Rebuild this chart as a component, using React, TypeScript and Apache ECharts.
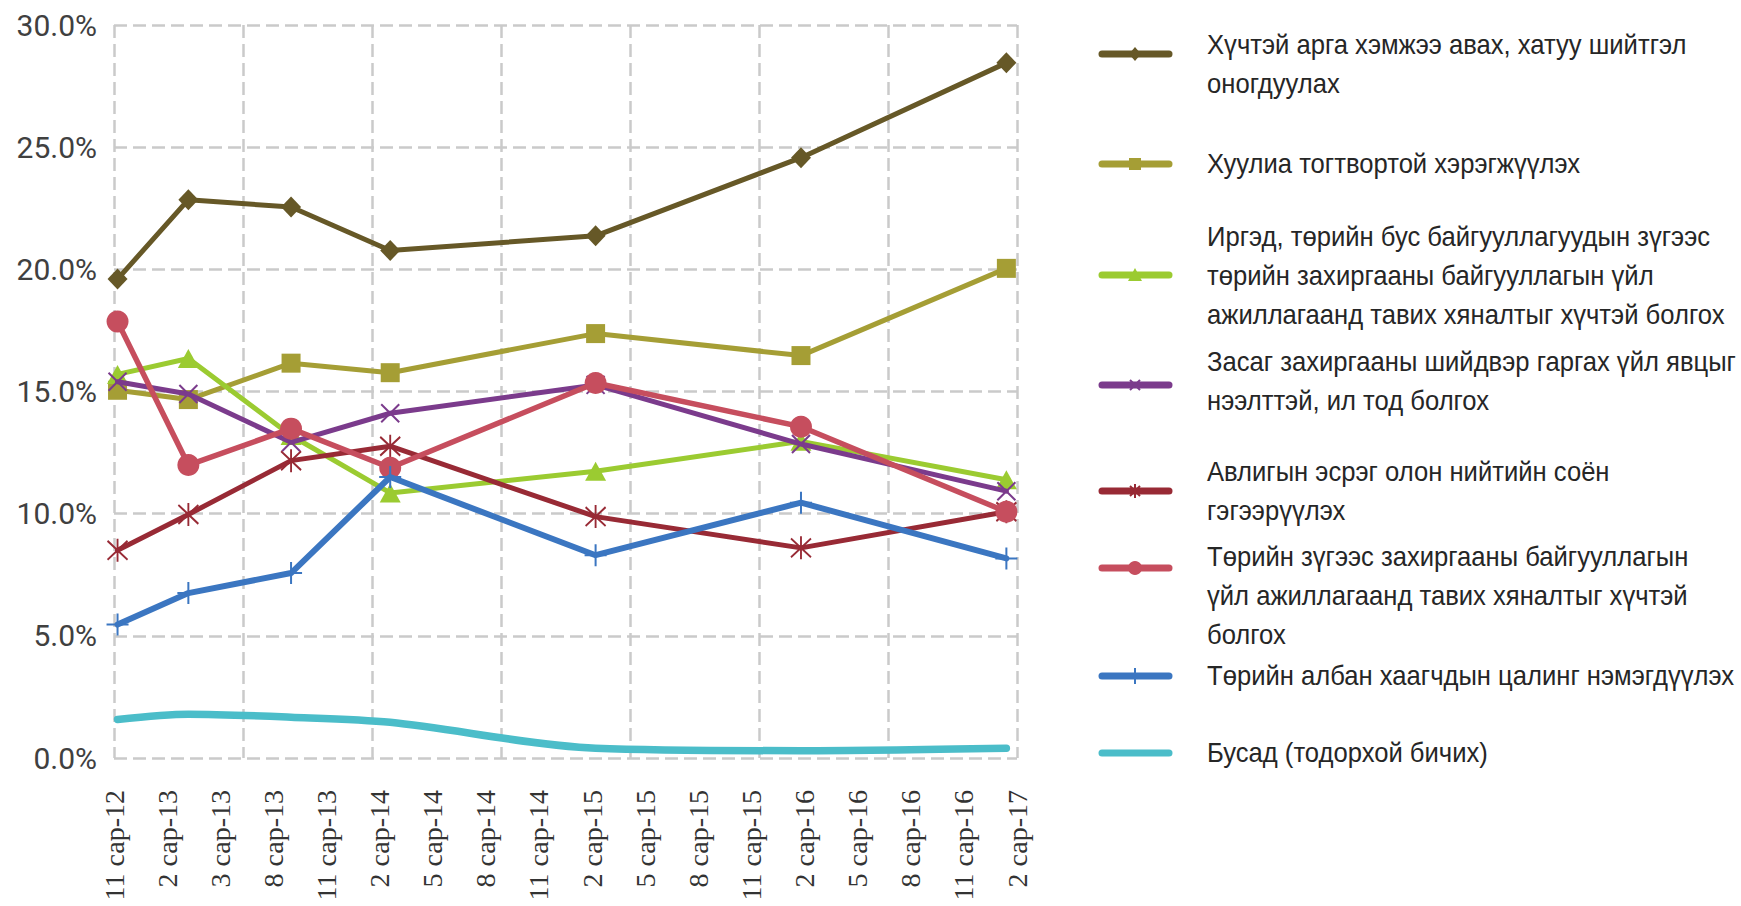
import React, { useEffect, useRef } from 'react';
import * as echarts from 'echarts';

// ---------- DATA ----------
const xTickLabels = [
  '11 сар-12', '2 сар-13', '3 сар-13', '8 сар-13', '11 сар-13', '2 сар-14',
  '5 сар-14', '8 сар-14', '11 сар-14', '2 сар-15', '5 сар-15', '8 сар-15',
  '11 сар-15', '2 сар-16', '5 сар-16', '8 сар-16', '11 сар-16', '2 сар-17',
];

// survey moments, in months counted from November 2012
const surveyMonths = [0.2, 4.2, 10.0, 15.6, 27.2, 38.8, 50.4];

const seriesNames = [
  'Хүчтэй арга хэмжээ авах, хатуу шийтгэл\nоногдуулах',
  'Хуулиа тогтвортой хэрэгжүүлэх',
  'Иргэд, төрийн бус байгууллагуудын зүгээс\nтөрийн захиргааны байгууллагын үйл\nажиллагаанд тавих хяналтыг хүчтэй болгох',
  'Засаг захиргааны шийдвэр гаргах үйл явцыг\nнээлттэй, ил тод болгох',
  'Авлигын эсрэг олон нийтийн соён\nгэгээрүүлэх',
  'Төрийн зүгээс захиргааны байгууллагын\nүйл ажиллагаанд тавих хяналтыг хүчтэй\nболгох',
  'Төрийн албан хаагчдын цалинг нэмэгдүүлэх',
  'Бусад (тодорхой бичих)',
];

const strongMeasures = [19.6, 22.85, 22.55, 20.77, 21.37, 24.57, 28.45];
const enforceLaw = [15.05, 14.67, 16.16, 15.77, 17.37, 16.47, 20.04];
const citizenOversight = [15.7, 16.35, 13.2, 10.85, 11.74, 12.96, 11.39];
const transparency = [15.4, 14.9, 12.92, 14.11, 15.27, 12.85, 10.92];
const publicAwareness = [8.5, 9.97, 12.17, 12.76, 9.88, 8.6, 10.08];
const stateOversight = [17.86, 11.99, 13.48, 11.88, 15.35, 13.56, 10.08];
const raiseSalaries = [5.46, 6.75, 7.57, 11.5, 8.3, 10.45, 8.17];
const otherAnswers = [1.58, 1.79, 1.67, 1.46, 0.4, 0.3, 0.4];

const seriesValues = [
  strongMeasures, enforceLaw, citizenOversight, transparency,
  publicAwareness, stateOversight, raiseSalaries, otherAnswers,
];

const yTicks = { min: 0, max: 30, step: 5 };

// ---------- STYLES ----------
const X_PATH = 'path://M0,0L20,20M20,0L0,20';
const AST_PATH = 'path://M1,2L19,20M19,2L1,20M10,0L10,22';
const PLUS_PATH = 'path://M10,0L10,20M0,10L20,10';

const styles = [
  { color: '#665827', symbol: 'diamond', size: [20, 21], width: 5, stroke: 0 },
  { color: '#a59e35', symbol: 'rect', size: 19, width: 5, stroke: 0 },
  { color: '#9bcb31', symbol: 'triangle', size: [21, 19], width: 5, stroke: 0 },
  { color: '#7b3b8c', symbol: X_PATH, size: 18, width: 5, stroke: 2 },
  { color: '#982a35', symbol: AST_PATH, size: [20, 23], width: 5, stroke: 2 },
  { color: '#c64e5e', symbol: 'circle', size: 22, width: 5.5, stroke: 0 },
  { color: '#3b76c1', symbol: PLUS_PATH, size: 22, width: 6, stroke: 2 },
  { color: '#4bbdc9', symbol: 'none', size: 0, width: 7.5, stroke: 0 },
];

// legend layout: icon centre y, first text line centre y
const legendIconY = [54, 164, 275, 385, 491, 568, 676, 753];
const legendTextY = [45, 164, 237, 362, 472, 557, 676, 753];

const LEG_X1 = 1102;
const LEG_X2 = 1169;
const LEG_CX = 1135;
const LEG_TX = 1207;
const LEG_LH = 39;
const LEG_SCALE_X = 0.915;

function legendMarker(i: number, cy: number): any[] {
  const c = styles[i].color;
  const cx = LEG_CX;
  switch (i) {
    case 0:
      return [{ type: 'polygon', shape: { points: [[cx, cy - 7], [cx + 6, cy], [cx, cy + 7], [cx - 6, cy]] }, style: { fill: c } }];
    case 1:
      return [{ type: 'rect', shape: { x: cx - 6, y: cy - 6, width: 12, height: 12 }, style: { fill: c } }];
    case 2:
      return [{ type: 'polygon', shape: { points: [[cx, cy - 7], [cx + 7, cy + 6], [cx - 7, cy + 6]] }, style: { fill: c } }];
    case 3:
      return [
        { type: 'line', shape: { x1: cx - 5, y1: cy - 5, x2: cx + 5, y2: cy + 5 }, style: { stroke: c, lineWidth: 2 } },
        { type: 'line', shape: { x1: cx + 5, y1: cy - 5, x2: cx - 5, y2: cy + 5 }, style: { stroke: c, lineWidth: 2 } },
      ];
    case 4:
      return [
        { type: 'line', shape: { x1: cx - 5, y1: cy - 5, x2: cx + 5, y2: cy + 5 }, style: { stroke: c, lineWidth: 2 } },
        { type: 'line', shape: { x1: cx + 5, y1: cy - 5, x2: cx - 5, y2: cy + 5 }, style: { stroke: c, lineWidth: 2 } },
        { type: 'line', shape: { x1: cx, y1: cy - 7, x2: cx, y2: cy + 7 }, style: { stroke: c, lineWidth: 2 } },
      ];
    case 5:
      return [{ type: 'circle', shape: { cx, cy, r: 7 }, style: { fill: c } }];
    case 6:
      return [{ type: 'line', shape: { x1: cx, y1: cy - 8, x2: cx, y2: cy + 8 }, style: { stroke: c, lineWidth: 2 } }];
    default:
      return [];
  }
}

export default function App() {
  const ref = useRef<HTMLDivElement>(null);

  useEffect(() => {
    document.body.style.margin = '0';
    if (!ref.current) return;
    const chart = echarts.init(ref.current, undefined, { renderer: 'svg' });

    const gridLine = { type: [13, 6], color: '#cacaca', width: 2.5 };

    const series = seriesValues.map((vals, i) => {
      const st = styles[i];
      return {
        name: seriesNames[i],
        type: 'line',
        data: vals.map((v, k) => [surveyMonths[k], v]),
        xAxisIndex: 0,
        yAxisIndex: 0,
        symbol: st.symbol,
        symbolSize: st.size,
        showSymbol: st.symbol !== 'none',
        smooth: i === 7 ? 0.3 : false,
        lineStyle: { color: st.color, width: st.width, cap: 'round', join: 'round' },
        itemStyle: { color: st.color, borderColor: st.color, borderWidth: st.stroke },
        z: 2 + i,
      };
    });

    const graphic: any[] = [];
    seriesNames.forEach((name, i) => {
      const c = styles[i].color;
      const iy = legendIconY[i];
      graphic.push({
        type: 'line',
        shape: { x1: LEG_X1, y1: iy, x2: LEG_X2, y2: iy },
        style: { stroke: c, lineWidth: 7, lineCap: 'round' },
      });
      legendMarker(i, iy).forEach((m) => graphic.push(m));
      graphic.push({
        type: 'text',
        x: LEG_TX,
        y: legendTextY[i] - LEG_LH / 2,
        scaleX: LEG_SCALE_X,
        style: {
          text: name,
          fontFamily: '"Liberation Sans", Arial, sans-serif',
          fontSize: 28,
          lineHeight: LEG_LH,
          fill: '#262626',
          verticalAlign: 'top',
          align: 'left',
        },
      });
    });

    const option: any = {
      animation: false,
      backgroundColor: '#ffffff',
      grid: { left: 114, top: 25, width: 903, height: 733, containLabel: false },
      xAxis: [
        {
          type: 'value',
          min: 0,
          max: 51,
          interval: 3,
          position: 'bottom',
          axisLine: { show: false },
          axisTick: { show: false },
          splitLine: { show: false },
          axisLabel: {
            rotate: 90,
            margin: 32,
            fontFamily: '"Liberation Serif", "DejaVu Serif", serif',
            fontSize: 28,
            color: '#333333',
            showMinLabel: true,
            showMaxLabel: true,
            formatter: (v: number) => xTickLabels[Math.round(v / 3)] ?? '',
          },
        },
        {
          type: 'value',
          min: 0,
          max: 7,
          interval: 1,
          position: 'top',
          axisLine: { show: false },
          axisTick: { show: false },
          axisLabel: { show: false },
          splitLine: { show: true, lineStyle: gridLine },
        },
      ],
      yAxis: {
        type: 'value',
        min: yTicks.min,
        max: yTicks.max,
        interval: yTicks.step,
        axisLine: { show: false },
        axisTick: { show: false },
        splitLine: { show: true, lineStyle: gridLine },
        axisLabel: {
          margin: 17,
          fontFamily: 'Roboto, sans-serif',
          fontSize: 30,
          color: '#404040',
          formatter: (v: number) => v.toFixed(1) + '%',
        },
      },
      series,
      graphic,
    };

    chart.setOption(option);
    return () => chart.dispose();
  }, []);

  return <div ref={ref} style={{ width: 1741, height: 906 }} />;
}
